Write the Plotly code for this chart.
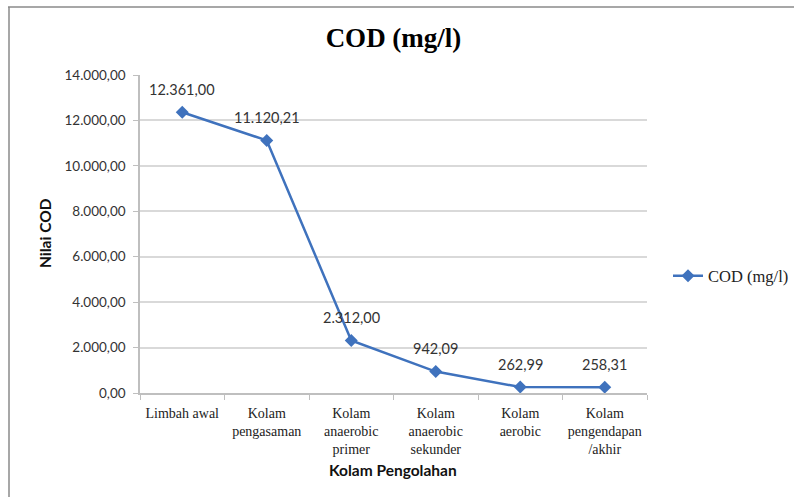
import plotly.graph_objects as go

categories = ["Limbah awal", "Kolam<br>pengasaman", "Kolam<br>anaerobic<br>primer",
              "Kolam<br>anaerobic<br>sekunder", "Kolam<br>aerobic", "Kolam<br>pengendapan<br>/akhir"]
cod_values = [12361.00, 11120.21, 2312.00, 942.09, 262.99, 258.31]
y_ticks = [0, 2000, 4000, 6000, 8000, 10000, 12000, 14000]


def fmt_id(v):
    s = f"{v:,.2f}"
    return s.replace(",", "X").replace(".", ",").replace("X", ".")


W, H = 794, 497
L, R, T, B = 140, 147, 75, 104
pw, ph = W - L - R, H - T - B

fig = go.Figure()
fig.add_trace(go.Scatter(
    x=categories, y=cod_values, mode="lines+markers", name="COD (mg/l)",
    line=dict(color="#3F72BD", width=2.5),
    marker=dict(symbol="diamond", size=10, color="#3F72BD"),
))

for c, v in zip(categories, cod_values):
    fig.add_annotation(x=c, y=v, text=fmt_id(v), showarrow=False, yshift=23,
                       font=dict(family="Lato, Open Sans, sans-serif", size=14.5, color="#333333"))

# outer frame (left and top edges)
def px_x(p):
    return (p - L) / pw

def px_y(p):
    return (H - B - p) / ph

fig.add_shape(type="line", xref="paper", yref="paper", x0=px_x(9), x1=px_x(9),
              y0=px_y(7), y1=px_y(497), line=dict(color="#8a8a8a", width=1.5))
fig.add_shape(type="line", xref="paper", yref="paper", x0=px_x(8), x1=px_x(794),
              y0=px_y(7), y1=px_y(7), line=dict(color="#8a8a8a", width=1.5))

fig.add_annotation(xref="paper", yref="paper", x=px_x(393), y=px_y(470),
                   text="<b>Kolam Pengolahan</b>", showarrow=False,
                   xanchor="center", yanchor="middle",
                   font=dict(family="Lato, Open Sans, sans-serif", size=15.5, color="#111"))
fig.add_annotation(xref="paper", yref="paper", x=px_x(45), y=px_y(233),
                   text="<b>Nilai COD</b>", showarrow=False, textangle=-90,
                   xanchor="center", yanchor="middle",
                   font=dict(family="Lato, Open Sans, sans-serif", size=15.5, color="#111"))

fig.update_layout(
    width=W, height=H,
    margin=dict(l=L, r=R, t=T, b=B, autoexpand=False),
    paper_bgcolor="white", plot_bgcolor="white",
    separators=",.",
    title=dict(text="<b>COD (mg/l)</b>", x=0.5, xanchor="center", xref="paper",
               y=1 - 38 / H, yanchor="middle",
               font=dict(family="Liberation Serif, Times New Roman, serif", size=27, color="black")),
    showlegend=True,
    legend=dict(x=px_x(668), y=px_y(276), xanchor="left", yanchor="middle",
                font=dict(family="Liberation Serif, Times New Roman, serif", size=16.5, color="#222"),
                bgcolor="rgba(0,0,0,0)"),
    xaxis=dict(
        type="category", range=[-0.5, 5.5],
        showline=True, linecolor="#bfbfbf", linewidth=1.5,
        ticks="outside", tickson="boundaries", ticklen=5, tickcolor="#bfbfbf",
        showgrid=False, ticklabelstandoff=6,
        tickfont=dict(family="Liberation Serif, Times New Roman, serif", size=14, color="#222"),
    ),
    yaxis=dict(
        range=[0, 14000], tickvals=y_ticks, tickformat=",.2f",
        showline=True, linecolor="#bfbfbf", linewidth=1.5,
        ticks="outside", ticklen=5, tickcolor="#bfbfbf",
        showgrid=True, gridcolor="#d9d9d9", gridwidth=1.5,
        zeroline=False, ticklabelstandoff=5,
        tickfont=dict(family="Lato, Open Sans, sans-serif", size=13.5, color="#333"),
    ),
)

fig.write_html("out.html")
